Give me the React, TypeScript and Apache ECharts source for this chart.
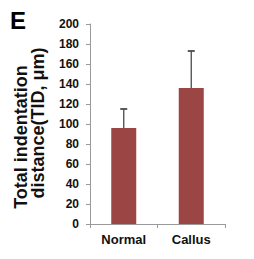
import React, { useEffect, useRef } from "react";
import * as echarts from "echarts";

const categories = ["Normal", "Callus"];
const means = [96, 136];
const upperErrors = [115, 173];

const FONT = "'Liberation Sans', Arial, sans-serif";

export default function App() {
  const ref = useRef<HTMLDivElement>(null);
  useEffect(() => {
    if (!ref.current) return;
    const chart = echarts.init(ref.current, undefined, { renderer: "svg" });
    chart.setOption({
      animation: false,
      backgroundColor: "#ffffff",
      grid: { left: 90, top: 24, right: 29, bottom: 35 },
      xAxis: {
        type: "category",
        data: categories,
        axisLine: { show: true, lineStyle: { color: "#9a9a9a", width: 1 } },
        axisTick: { show: true, length: 4, lineStyle: { color: "#9a9a9a" } },
        axisLabel: {
          margin: 9,
          fontSize: 13,
          fontWeight: "bold",
          fontFamily: FONT,
          color: "#111",
        },
      },
      yAxis: {
        type: "value",
        min: 0,
        max: 200,
        interval: 20,
        splitLine: { show: false },
        axisLine: { show: true, lineStyle: { color: "#9a9a9a", width: 1 } },
        axisTick: { show: true, length: 4, lineStyle: { color: "#9a9a9a" } },
        axisLabel: {
          margin: 11,
          fontSize: 12,
          fontWeight: "bold",
          fontFamily: FONT,
          color: "#111",
        },
      },
      series: [
        {
          type: "bar",
          data: means,
          barWidth: 25,
          itemStyle: { color: "#9b4545" },
        },
        {
          type: "custom",
          z: 10,
          data: categories.map((_, i) => [i, means[i], upperErrors[i]]),
          renderItem: (params: any, api: any) => {
            const base = api.coord([api.value(0), api.value(1)]);
            const top = api.coord([api.value(0), api.value(2)]);
            return {
              type: "group",
              children: [
                {
                  type: "line",
                  shape: { x1: base[0], y1: base[1], x2: top[0], y2: top[1] },
                  style: { stroke: "#4a4a4a", lineWidth: 1.3 },
                },
                {
                  type: "line",
                  shape: { x1: top[0] - 3.5, y1: top[1], x2: top[0] + 3.5, y2: top[1] },
                  style: { stroke: "#4a4a4a", lineWidth: 1.8 },
                },
              ],
            };
          },
        },
      ],
      graphic: [
        {
          type: "text",
          x: 10,
          y: 20.5,
          style: {
            text: "E",
            fontSize: 24,
            fontWeight: "bold",
            fontFamily: FONT,
            fill: "#000",
            textAlign: "left",
            textVerticalAlign: "middle",
          },
        },
        {
          type: "text",
          x: 20.5,
          y: 137,
          rotation: Math.PI / 2,
          style: {
            text: "Total indentation",
            fontSize: 18,
            fontWeight: "bold",
            fontFamily: FONT,
            fill: "#111",
            textAlign: "center",
            textVerticalAlign: "middle",
          },
        },
        {
          type: "text",
          x: 38,
          y: 123,
          rotation: Math.PI / 2,
          style: {
            text: "distance(TID, μm)",
            fontSize: 18,
            fontWeight: "bold",
            fontFamily: FONT,
            fill: "#111",
            textAlign: "center",
            textVerticalAlign: "middle",
          },
        },
      ],
    });
    return () => chart.dispose();
  }, []);
  return (
    <div
      ref={ref}
      style={{ position: "fixed", left: 0, top: 0, width: 254, height: 259 }}
    />
  );
}
